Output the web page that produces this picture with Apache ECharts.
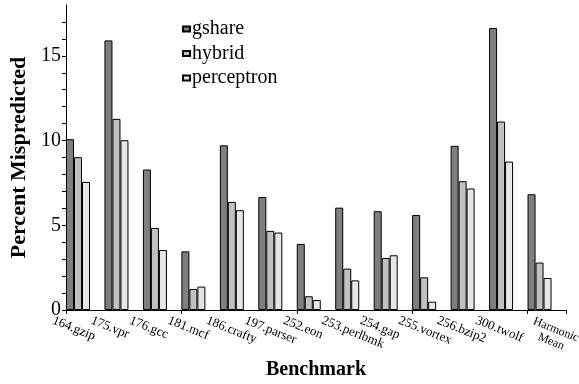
<!DOCTYPE html>
<html>
<head>
    <meta charset="UTF-8">
    <title>Percent Mispredicted</title>
    <script src="https://cdn.jsdelivr.net/npm/echarts@6/dist/echarts.min.js"></script>
    <style>
        html, body { margin: 0; padding: 0; background: #fff; }
        #main { width: 579px; height: 384px; }
    </style>
</head>
<body>
    <div id="main"></div>
    <script>
        var benchmarks = ['164.gzip', '175.vpr', '176.gcc', '181.mcf', '186.crafty', '197.parser',
            '252.eon', '253.perlbmk', '254.gap', '255.vortex', '256.bzip2', '300.twolf', 'Harmonic\nMean'];
        var gshare = [10.08, 15.91, 8.29, 3.46, 9.72, 6.67, 3.90, 6.04, 5.83, 5.61, 9.69, 16.64, 6.83];
        var hybrid = [9.02, 11.28, 4.84, 1.24, 6.38, 4.67, 0.81, 2.44, 3.07, 1.93, 7.60, 11.12, 2.80];
        var perceptron = [7.56, 10.02, 3.54, 1.38, 5.89, 4.57, 0.59, 1.75, 3.23, 0.49, 7.17, 8.76, 1.89];
        var yLabels = [0, 5, 10, 15];

        var serif = 'Liberation Serif';
        var chart = echarts.init(document.getElementById('main'));

        function barSeries(name, data, color) {
            return {
                name: name,
                type: 'bar',
                xAxisIndex: 0,
                yAxisIndex: 0,
                data: data,
                barWidth: 8,
                barGap: '0%',
                itemStyle: { color: color, borderColor: '#000', borderWidth: 1 },
                emphasis: { disabled: true },
                animation: false
            };
        }

        // spacer keeps each group against the left edge of its band
        var spacer = {
            name: 'spacer',
            type: 'bar',
            xAxisIndex: 0,
            yAxisIndex: 0,
            data: benchmarks.map(function () { return null; }),
            barWidth: 14.46,
            barGap: '0%',
            silent: true,
            animation: false
        };

        var option = {
            backgroundColor: '#fff',
            textStyle: { fontFamily: serif },
            legend: {
                data: ['gshare', 'hybrid', 'perceptron'],
                orient: 'vertical',
                left: 177,
                top: 14,
                icon: 'rect',
                itemWidth: 7,
                itemHeight: 5,
                itemGap: 4.5,
                textStyle: { fontFamily: serif, fontSize: 20, color: '#000', padding: [0, 0, 0, -3] }
            },
            grid: [
                { left: 66, right: 13, top: 5, bottom: 74, outerBoundsMode: 'none' },
                { left: 53, right: 26, top: 5, bottom: 74, outerBoundsMode: 'none' }
            ],
            xAxis: [{
                type: 'category',
                gridIndex: 0,
                data: benchmarks,
                boundaryGap: true,
                axisLine: { lineStyle: { color: '#000', width: 1 } },
                axisTick: { show: true, length: 4, lineStyle: { color: '#000' } },
                axisLabel: { show: false },
                name: 'Benchmark',
                nameLocation: 'middle',
                nameGap: 50,
                nameTextStyle: { fontFamily: serif, fontSize: 20, fontWeight: 'bold', color: '#000' }
            }, {
                // label axis, shifted so each name starts just left of its tick
                type: 'category',
                gridIndex: 1,
                data: benchmarks.concat(['']),
                boundaryGap: false,
                axisLine: { show: false },
                axisTick: { show: false },
                axisLabel: {
                    interval: 0,
                    rotate: -22,
                    margin: 10,
                    fontFamily: serif,
                    fontSize: 13,
                    color: '#000',
                    formatter: function (v) {
                        if (v.indexOf('\n') >= 0) {
                            return v.split('\n').map(function (s) { return '{c|' + s + '}'; }).join('\n');
                        }
                        return v;
                    },
                    rich: {
                        c: {
                            align: 'center', fontFamily: serif, fontSize: 12, lineHeight: 13,
                            color: '#000', padding: [0, 0, 0, 18]
                        }
                    }
                }
            }],
            yAxis: [{
                type: 'value',
                gridIndex: 0,
                min: 0,
                max: 18,
                interval: 1,
                splitLine: { show: false },
                axisLine: { show: true, lineStyle: { color: '#000', width: 1 } },
                axisTick: { show: true, length: 4, lineStyle: { color: '#000' } },
                axisLabel: {
                    fontFamily: serif,
                    fontSize: 20,
                    color: '#000',
                    margin: 5,
                    showMaxLabel: false,
                    formatter: function (v) {
                        return yLabels.indexOf(v) >= 0 ? String(v) : '';
                    }
                },
                name: 'Percent Mispredicted',
                nameLocation: 'middle',
                nameGap: 36,
                nameTextStyle: { fontFamily: serif, fontSize: 22, fontWeight: 'bold', color: '#000' }
            }, {
                type: 'value',
                gridIndex: 1,
                show: false
            }],
            series: [
                barSeries('gshare', gshare, '#7f7f7f'),
                barSeries('hybrid', hybrid, '#c0c0c0'),
                barSeries('perceptron', perceptron, '#e6e6e6'),
                spacer
            ]
        };

        chart.setOption(option);
    </script>
</body>
</html>
